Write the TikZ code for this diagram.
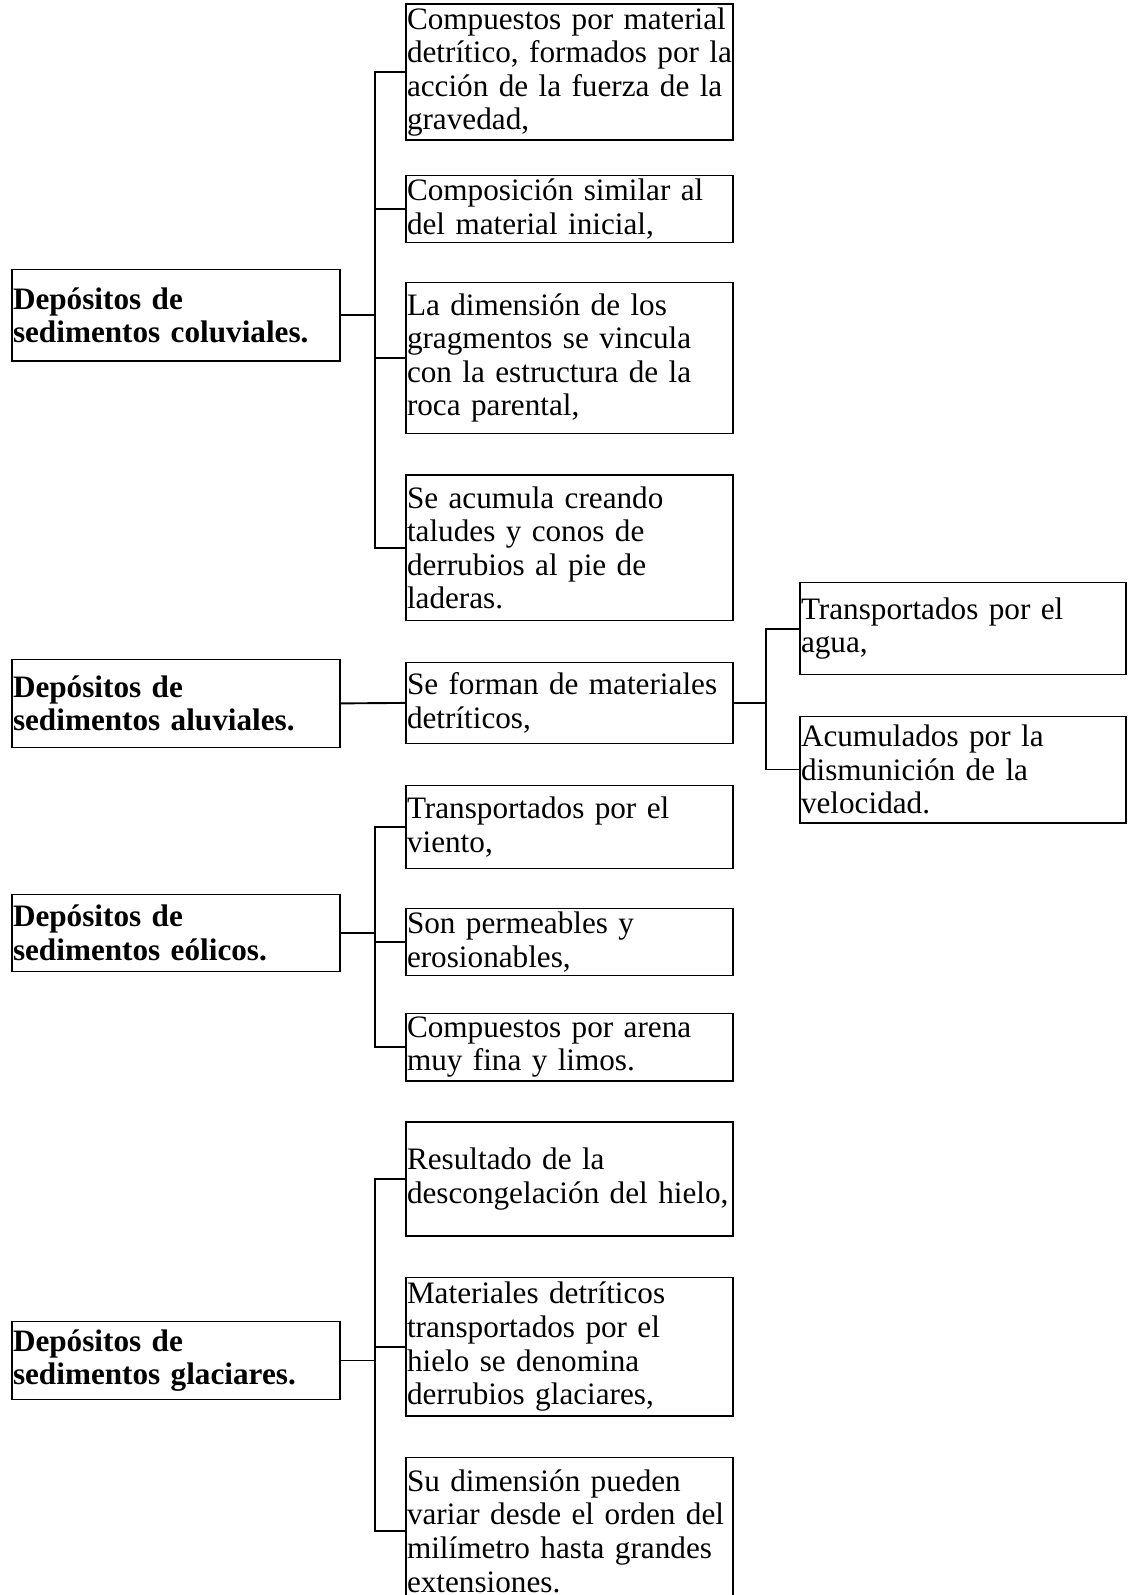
\documentclass[tikz,border=0pt]{standalone}
\usepackage{fontspec}
\setmainfont{Liberation Serif}
\tikzset{%
  font=\fontsize{31.2}{33.6}\selectfont,
  main/.style={draw,rectangle,line width=1.2pt,text width=326pt,inner xsep=1pt,%
    align=left,font=\fontsize{31.2}{33.6}\selectfont\bfseries},
  item/.style={draw,rectangle,line width=1.2pt,text width=325pt,inner xsep=1pt,%
    align=left},
  link/.style={draw,line width=1.9pt}
}
\begin{document}
\begin{tikzpicture}[x=1pt,y=-1pt]
\useasboundingbox (0,0) rectangle (1127,1595);
% coluviales
\node[main,minimum height=91.5pt] (coluviales) at (176,315.3) {Depósitos de\\sedimentos coluviales.};
\node[item,minimum height=126pt] (coluviales-1) at (569.5,72) {Compuestos por material\\detrítico, formados por la\\acción de la fuerza de la\\gravedad,};
\node[item,minimum height=64pt] (coluviales-2) at (569.5,209) {Composición similar al\\del material inicial,};
\node[item,minimum height=150.5pt] (coluviales-3) at (569.5,358) {La dimensión de los\\gragmentos se vincula\\con la estructura de la\\roca parental,};
\node[item,minimum height=145.5pt] (coluviales-4) at (569.5,547.8) {Se acumula creando\\taludes y conos de\\derrubios al pie de\\laderas.};
% aluviales
\node[main,minimum height=88.5pt] (aluviales) at (176,703.4) {Depósitos de\\sedimentos aluviales.};
\node[item,minimum height=81.4pt] (aluviales-1) at (569.5,702.9) {Se forman de materiales\\detríticos,};
\node[item,minimum height=91.5pt,text width=324pt] (aluviales-1a) at (963,628.6) {Transportados por el\\agua,};
\node[item,minimum height=106.8pt,text width=324pt] (aluviales-1b) at (963,769.5) {Acumulados por la\\dismunición de la\\velocidad.};
% eolicos
\node[main,minimum height=77.3pt] (eolicos) at (176,932.8) {Depósitos de\\sedimentos eólicos.};
\node[item,minimum height=83.4pt] (eolicos-1) at (569.5,827) {Transportados por el\\viento,};
\node[item,minimum height=65pt] (eolicos-2) at (569.5,942) {Son permeables y\\erosionables,};
\node[item,minimum height=64pt] (eolicos-3) at (569.5,1047.2) {Compuestos por arena\\muy fina y limos.};
% glaciares
\node[main,minimum height=78.4pt] (glaciares) at (176,1360.5) {Depósitos de\\sedimentos glaciares.};
\node[item,minimum height=114pt] (glaciares-1) at (569.5,1179) {Resultado de la\\descongelación del hielo,};
\node[item,minimum height=138.4pt] (glaciares-2) at (569.5,1346.8) {Materiales detríticos\\transportados por el\\hielo se denomina\\derrubios glaciares,};
\node[item,minimum height=147pt] (glaciares-3) at (569.5,1531) {Su dimensión pueden\\variar desde el orden del\\milímetro hasta grandes\\extensiones.};
% connectors
\foreach \k in {1,...,4}
  \draw[link] (coluviales.east) -- ++(34,0) |- (coluviales-\k.west);
\draw[link] (aluviales.east) -- (aluviales-1.west);
\foreach \k in {a,b}
  \draw[link] (aluviales-1.east) -- ++(32,0) |- (aluviales-1\k.west);
\foreach \k in {1,2,3}
  \draw[link] (eolicos.east) -- ++(34,0) |- (eolicos-\k.west);
\foreach \k in {1,2,3}
  \draw[link] (glaciares.east) -- ++(34,0) |- (glaciares-\k.west);
\end{tikzpicture}
\end{document}
